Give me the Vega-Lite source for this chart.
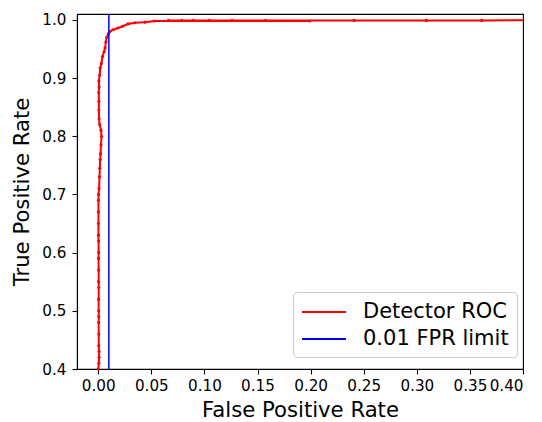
{
  "$schema": "https://vega.github.io/schema/vega-lite/v6.json",
  "width": 446,
  "height": 355,
  "autosize": {"type": "none"},
  "padding": {"left": 77, "top": 14, "right": 19, "bottom": 53},
  "background": "white",
  "config": {
    "font": "DejaVu Sans",
    "view": {"stroke": "black", "strokeWidth": 1.1},
    "axis": {
      "domainColor": "black",
      "domainWidth": 1.1,
      "tickColor": "black",
      "tickWidth": 1.1,
      "tickSize": 5,
      "labelColor": "black",
      "labelFont": "DejaVu Sans",
      "labelFontSize": 15.2,
      "titleFont": "DejaVu Sans",
      "titleFontSize": 21.2,
      "titleFontWeight": "normal",
      "titleColor": "black",
      "grid": false
    }
  },
  "datasets": {
    "roc": [
      {"fpr": 0.0, "tpr": 0.38, "series": "Detector ROC"},
      {"fpr": 0.0, "tpr": 0.40, "series": "Detector ROC"},
      {"fpr": 0.0006, "tpr": 0.41, "series": "Detector ROC"},
      {"fpr": 0.0008, "tpr": 0.42, "series": "Detector ROC"},
      {"fpr": 0.0008, "tpr": 0.43, "series": "Detector ROC"},
      {"fpr": 0.0005, "tpr": 0.44, "series": "Detector ROC"},
      {"fpr": 0.0005, "tpr": 0.46, "series": "Detector ROC"},
      {"fpr": 0.0004, "tpr": 0.48, "series": "Detector ROC"},
      {"fpr": 0.0005, "tpr": 0.49, "series": "Detector ROC"},
      {"fpr": 0.0004, "tpr": 0.50, "series": "Detector ROC"},
      {"fpr": 0.0004, "tpr": 0.52, "series": "Detector ROC"},
      {"fpr": 0.0005, "tpr": 0.54, "series": "Detector ROC"},
      {"fpr": 0.0004, "tpr": 0.55, "series": "Detector ROC"},
      {"fpr": 0.0004, "tpr": 0.57, "series": "Detector ROC"},
      {"fpr": 0.0003, "tpr": 0.59, "series": "Detector ROC"},
      {"fpr": 0.0004, "tpr": 0.60, "series": "Detector ROC"},
      {"fpr": 0.0003, "tpr": 0.62, "series": "Detector ROC"},
      {"fpr": 0.0002, "tpr": 0.63, "series": "Detector ROC"},
      {"fpr": 0.0002, "tpr": 0.65, "series": "Detector ROC"},
      {"fpr": 0.0002, "tpr": 0.67, "series": "Detector ROC"},
      {"fpr": 0.0002, "tpr": 0.69, "series": "Detector ROC"},
      {"fpr": 0.0003, "tpr": 0.70, "series": "Detector ROC"},
      {"fpr": 0.0008, "tpr": 0.71, "series": "Detector ROC"},
      {"fpr": 0.0012, "tpr": 0.73, "series": "Detector ROC"},
      {"fpr": 0.0015, "tpr": 0.745, "series": "Detector ROC"},
      {"fpr": 0.0018, "tpr": 0.76, "series": "Detector ROC"},
      {"fpr": 0.0022, "tpr": 0.77, "series": "Detector ROC"},
      {"fpr": 0.0026, "tpr": 0.785, "series": "Detector ROC"},
      {"fpr": 0.0031, "tpr": 0.80, "series": "Detector ROC"},
      {"fpr": 0.0026, "tpr": 0.81, "series": "Detector ROC"},
      {"fpr": 0.0013, "tpr": 0.82, "series": "Detector ROC"},
      {"fpr": 0.0008, "tpr": 0.83, "series": "Detector ROC"},
      {"fpr": 0.0006, "tpr": 0.845, "series": "Detector ROC"},
      {"fpr": 0.0006, "tpr": 0.86, "series": "Detector ROC"},
      {"fpr": 0.0005, "tpr": 0.875, "series": "Detector ROC"},
      {"fpr": 0.0008, "tpr": 0.885, "series": "Detector ROC"},
      {"fpr": 0.0006, "tpr": 0.895, "series": "Detector ROC"},
      {"fpr": 0.0014, "tpr": 0.905, "series": "Detector ROC"},
      {"fpr": 0.0018, "tpr": 0.917, "series": "Detector ROC"},
      {"fpr": 0.0030, "tpr": 0.925, "series": "Detector ROC"},
      {"fpr": 0.0040, "tpr": 0.937, "series": "Detector ROC"},
      {"fpr": 0.0055, "tpr": 0.945, "series": "Detector ROC"},
      {"fpr": 0.0065, "tpr": 0.952, "series": "Detector ROC"},
      {"fpr": 0.0072, "tpr": 0.962, "series": "Detector ROC"},
      {"fpr": 0.0080, "tpr": 0.970, "series": "Detector ROC"},
      {"fpr": 0.0095, "tpr": 0.976, "series": "Detector ROC"},
      {"fpr": 0.0110, "tpr": 0.980, "series": "Detector ROC"},
      {"fpr": 0.0140, "tpr": 0.983, "series": "Detector ROC"},
      {"fpr": 0.0185, "tpr": 0.986, "series": "Detector ROC"},
      {"fpr": 0.0230, "tpr": 0.989, "series": "Detector ROC"},
      {"fpr": 0.0280, "tpr": 0.993, "series": "Detector ROC"},
      {"fpr": 0.0345, "tpr": 0.995, "series": "Detector ROC"},
      {"fpr": 0.0440, "tpr": 0.996, "series": "Detector ROC"},
      {"fpr": 0.0530, "tpr": 0.998, "series": "Detector ROC"},
      {"fpr": 0.0660, "tpr": 0.999, "series": "Detector ROC"},
      {"fpr": 0.0785, "tpr": 0.999, "series": "Detector ROC"},
      {"fpr": 0.0894, "tpr": 0.999, "series": "Detector ROC"},
      {"fpr": 0.1045, "tpr": 0.999, "series": "Detector ROC"},
      {"fpr": 0.126, "tpr": 0.999, "series": "Detector ROC"},
      {"fpr": 0.1576, "tpr": 0.999, "series": "Detector ROC"},
      {"fpr": 0.1992, "tpr": 0.998, "series": "Detector ROC"},
      {"fpr": 0.241, "tpr": 0.999, "series": "Detector ROC"},
      {"fpr": 0.309, "tpr": 0.999, "series": "Detector ROC"},
      {"fpr": 0.361, "tpr": 0.999, "series": "Detector ROC"},
      {"fpr": 0.50, "tpr": 1.0, "series": "Detector ROC"}
    ],
    "limit": [
      {"fpr": 0.01, "series": "0.01 FPR limit"}
    ]
  },
  "encoding": {
    "x": {
      "field": "fpr",
      "type": "quantitative",
      "title": "False Positive Rate",
      "scale": {"domain": [-0.02, 0.40], "nice": false, "zero": false},
      "axis": {
        "values": [0, 0.05, 0.1, 0.15, 0.2, 0.25, 0.3, 0.35, 0.4],
        "format": ".2f",
        "labelPadding": 4,
        "titlePadding": 6
      }
    }
  },
  "layer": [
    {
      "data": {"name": "roc"},
      "mark": {"type": "line", "clip": true, "strokeWidth": 2},
      "encoding": {
        "y": {
          "field": "tpr",
          "type": "quantitative",
          "title": "True Positive Rate",
          "scale": {"domain": [0.4, 1.01], "nice": false, "zero": false},
          "axis": {
            "values": [0.4, 0.5, 0.6, 0.7, 0.8, 0.9, 1.0],
            "format": ".1f",
            "labelPadding": 6,
            "titlePadding": 9
          }
        },
        "order": {"field": "tpr", "type": "quantitative"},
        "color": {
          "field": "series",
          "type": "nominal",
          "scale": {
            "domain": ["Detector ROC", "0.01 FPR limit"],
            "range": ["#ff0000", "#0000ff"]
          },
          "legend": {
            "title": null,
            "orient": "none",
            "legendX": 216,
            "legendY": 278,
            "fillColor": "white",
            "strokeColor": "#cccccc",
            "cornerRadius": 4,
            "padding": 8,
            "labelFont": "DejaVu Sans",
            "labelFontSize": 21,
            "labelColor": "black",
            "labelOffset": 38,
            "symbolType": "M-1,0H3",
            "symbolSize": 484,
            "symbolStrokeWidth": 2,
            "rowPadding": 5
          }
        }
      }
    },
    {
      "data": {"name": "roc"},
      "transform": [{"filter": "datum.fpr <= 0.4 && datum.tpr >= 0.4"}],
      "mark": {"type": "point", "filled": true, "size": 10, "color": "#ff0000", "opacity": 1},
      "encoding": {
        "y": {"field": "tpr", "type": "quantitative"}
      }
    },
    {
      "data": {"name": "limit"},
      "mark": {"type": "rule", "strokeWidth": 1.5},
      "encoding": {
        "color": {"field": "series", "type": "nominal"}
      }
    }
  ]
}
